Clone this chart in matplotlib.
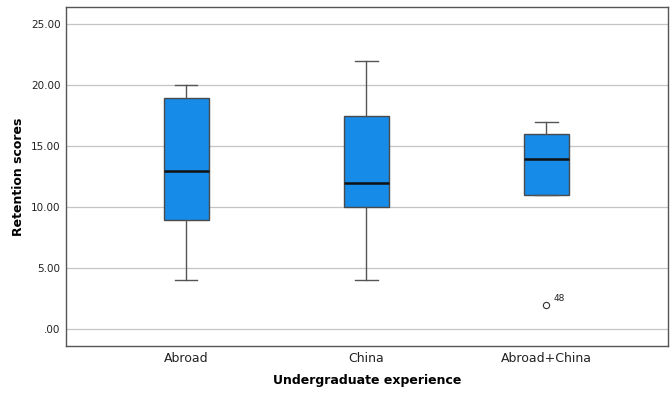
import matplotlib
matplotlib.use("Agg")
import matplotlib.pyplot as plt

categories = ["Abroad", "China", "Abroad+China"]
whisker_low = [4.0, 4.0, 11.0]
q1 = [9.0, 10.0, 11.0]
median = [13.0, 12.0, 14.0]
q3 = [19.0, 17.5, 16.0]
whisker_high = [20.0, 22.0, 17.0]
outliers = [[], [], [2.0]]
outlier_ids = [[], [], ["48"]]
y_ticks = [0, 5, 10, 15, 20, 25]
y_tick_labels = [".00", "5.00", "10.00", "15.00", "20.00", "25.00"]

plt.rcParams["font.family"] = ["DejaVu Sans"]

fig = plt.figure(figsize=(6.70, 3.94), dpi=100)
ax = fig.add_axes([66 / 670, 1 - 346 / 394, (668 - 66) / 670, (346 - 7) / 394])

stats = []
for i, name in enumerate(categories):
    stats.append(dict(label=name, whislo=whisker_low[i], q1=q1[i], med=median[i],
                      q3=q3[i], whishi=whisker_high[i], fliers=outliers[i]))

positions = list(range(len(categories)))
ax.bxp(stats, positions=positions, widths=0.25, patch_artist=True,
       boxprops=dict(facecolor="#168be8", edgecolor="#4a4a4a", linewidth=1.0),
       medianprops=dict(color="#111111", linewidth=1.8),
       whiskerprops=dict(color="#555555", linewidth=1.0),
       capprops=dict(color="#555555", linewidth=1.0),
       capwidths=0.125,
       flierprops=dict(marker="o", markersize=4.5, markerfacecolor="white",
                       markeredgecolor="#333333", markeredgewidth=0.8),
       zorder=3)

for i, ids in enumerate(outlier_ids):
    for val, lab in zip(outliers[i], ids):
        ax.annotate(lab, (positions[i], val), xytext=(5, 3), textcoords="offset points",
                    fontsize=6.5, color="#222222")

ax.set_xlim(-0.667, 2.675)
ax.set_ylim(-1.37, 26.42)
ax.set_yticks(y_ticks)
ax.set_yticklabels(y_tick_labels)
ax.set_xticks(positions)
ax.set_xticklabels(categories)
ax.yaxis.grid(True, color="#c4c4c4", linewidth=0.9, zorder=0)
ax.set_axisbelow(True)
ax.tick_params(axis="both", length=0, labelsize=7.5, colors="#222222")
ax.tick_params(axis="x", labelsize=9, pad=4)
ax.tick_params(axis="y", pad=4)
for s in ax.spines.values():
    s.set_color("#555555")
    s.set_linewidth(1.0)

ax.set_xlabel("Undergraduate experience", fontsize=9, fontweight="bold", labelpad=7)
ax.set_ylabel("Retention scores", fontsize=9, fontweight="bold", labelpad=4)

fig.savefig("out.png", dpi=100)
